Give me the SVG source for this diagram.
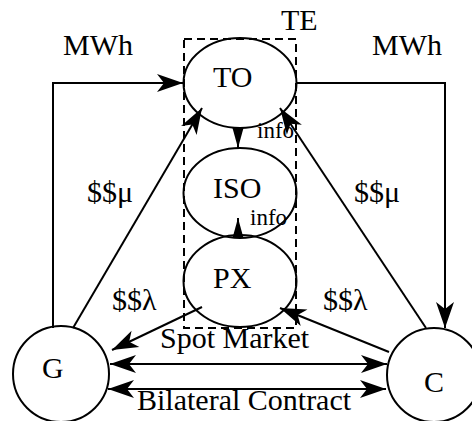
<svg xmlns="http://www.w3.org/2000/svg" width="472" height="421" viewBox="0 0 472 421">
  <style>
    text { font-family: "Liberation Serif", "Times New Roman", serif; font-size: 30px; fill: #000; }
    .small { font-size: 23px; }
    .node { fill: none; stroke: #000; stroke-width: 2; }
    .edge { fill: none; stroke: #000; stroke-width: 2; }
    .te { fill: none; stroke: #000; stroke-width: 2; stroke-dasharray: 8 5; }
  </style>
  <defs>
    <marker id="arr" viewBox="-28 -10 30 20" markerWidth="30" markerHeight="20" refX="0" refY="0" orient="auto-start-reverse" markerUnits="userSpaceOnUse">
      <path d="M0,0 L-26,-9 L-19,0 L-26,9 Z" fill="#000"/>
    </marker>
    <marker id="tri" viewBox="-22 -7 24 14" markerWidth="24" markerHeight="14" refX="0" refY="0" orient="auto" markerUnits="userSpaceOnUse">
      <path d="M0,0 L-20,-5.5 L-20,5.5 Z" fill="#000"/>
    </marker>
  </defs>

  <!-- trading entity boundary -->
  <g id="TE">
    <rect class="te" x="184" y="39" width="112" height="289"/>
    <text x="281" y="30">TE</text>
  </g>

  <g id="TO">
    <ellipse class="node" cx="240" cy="83" rx="56.5" ry="45"/>
    <text x="213" y="87">TO</text>
  </g>
  <g id="ISO">
    <ellipse class="node" cx="240" cy="193" rx="56.5" ry="45"/>
    <text x="213" y="198">ISO</text>
  </g>
  <g id="PX">
    <ellipse class="node" cx="240" cy="281" rx="56.5" ry="46"/>
    <text x="213" y="288">PX</text>
  </g>
  <g id="G">
    <circle class="node" cx="61" cy="374" r="48"/>
    <text x="42" y="378">G</text>
  </g>
  <g id="C">
    <circle class="node" cx="434" cy="375" r="47"/>
    <text x="424" y="392">C</text>
  </g>

  <g id="connectors">
    <!-- energy flows -->
    <polyline class="edge" points="53,328 53,83 183,83" marker-end="url(#arr)"/>
    <polyline class="edge" points="296,83 445,83 445,328" marker-end="url(#arr)"/>
    <!-- payments to TO -->
    <line class="edge" x1="73" y1="328" x2="202" y2="108" marker-end="url(#arr)"/>
    <line class="edge" x1="426" y1="328" x2="280" y2="108" marker-end="url(#arr)"/>
    <!-- info flows -->
    <line class="edge" x1="238" y1="128" x2="238" y2="148" marker-end="url(#tri)"/>
    <line class="edge" x1="238" y1="236" x2="238" y2="218" marker-end="url(#tri)"/>
    <!-- spot payments -->
    <line class="edge" x1="202" y1="307" x2="112" y2="350" marker-end="url(#arr)"/>
    <line class="edge" x1="389" y1="352" x2="280" y2="308" marker-end="url(#arr)"/>
    <!-- G <-> C -->
    <line class="edge" x1="110" y1="364" x2="387" y2="364" marker-start="url(#arr)" marker-end="url(#arr)"/>
    <line class="edge" x1="108" y1="389" x2="386" y2="389" marker-start="url(#arr)" marker-end="url(#arr)"/>
  </g>

  <g id="labels">
    <text x="63" y="55">MWh</text>
    <text x="372" y="55">MWh</text>
    <text class="small" x="257" y="138">info</text>
    <text class="small" x="250" y="225">info</text>
    <text x="87" y="202">$$μ</text>
    <text x="354" y="202">$$μ</text>
    <text x="112" y="310">$$λ</text>
    <text x="323" y="310">$$λ</text>
    <text x="160" y="348">Spot Market</text>
    <text x="137" y="410">Bilateral Contract</text>
  </g>
</svg>
